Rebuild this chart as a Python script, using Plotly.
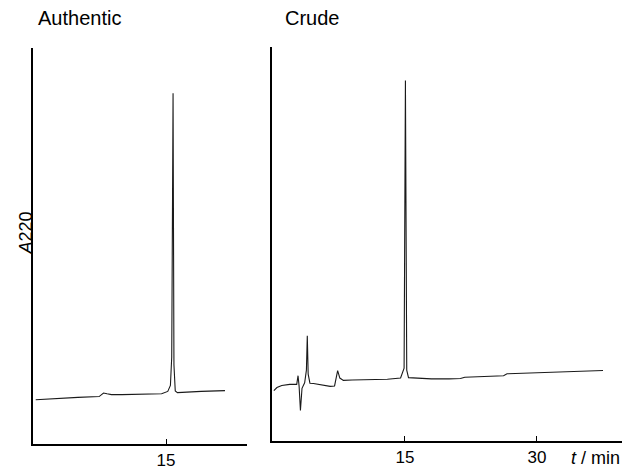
import plotly.graph_objects as go

# Authentic sample chromatogram (time in min, absorbance at 220 nm, arbitrary units)
auth_t = [0.2, 1.5, 3.0, 5.0, 7.4, 7.9, 8.3, 8.8, 10.0, 12.0, 14.5, 15.2, 15.5, 15.65,
          15.8, 15.9, 16.05, 16.3, 17.0, 19.0, 21.7]
auth_a = [11.2, 11.4, 11.6, 11.8, 12.0, 12.9, 12.7, 12.5, 12.5, 12.6, 12.7, 13.3, 14.8, 22.0,
          88.5, 20.0, 13.4, 13.0, 13.1, 13.3, 13.5]

# Crude sample chromatogram
crude_t = [0.1, 0.45, 1.0, 1.9, 2.7, 2.85, 2.97, 3.12, 3.3, 3.6, 3.8, 3.9, 4.0, 4.2, 4.6,
           5.5, 6.5, 7.0, 7.2, 7.35, 7.6, 8.0, 9.0, 11.0, 13.0, 14.5, 14.9, 15.05, 15.2,
           15.4, 16.0, 18.0, 20.0, 21.3, 21.8, 24.0, 26.2, 26.6, 30.0, 34.0, 37.5]
crude_a = [12.8, 13.6, 14.1, 14.4, 14.4, 16.6, 13.9, 7.8, 13.4, 14.8, 18.0, 26.7, 17.0, 14.7,
           14.6, 14.2, 13.9, 14.0, 16.5, 17.9, 16.0, 15.4, 15.5, 15.6, 15.7, 16.0, 18.5, 91.4,
           18.0, 16.1, 16.0, 15.8, 15.8, 15.9, 16.2, 16.4, 16.6, 17.1, 17.3, 17.6, 17.9]

panel_titles = ["Authentic", "Crude"]
auth_ticks = [15]
crude_ticks = [15, 30]

W, H = 622, 470
FONT = "Liberation Sans, Arial, Helvetica, sans-serif"
LINE = "#1a1a1a"

fig = go.Figure()
fig.add_trace(go.Scatter(x=auth_t, y=auth_a, mode="lines", xaxis="x", yaxis="y",
                         line=dict(color=LINE, width=1.1), showlegend=False))
fig.add_trace(go.Scatter(x=crude_t, y=crude_a, mode="lines", xaxis="x2", yaxis="y2",
                         line=dict(color=LINE, width=1.1), showlegend=False))

def px(x):
    return min(1.0, max(0.0, x / W))

def py(y):
    return min(1.0, max(0.0, (H - y) / H))

axis_common = dict(showgrid=False, zeroline=False, showline=True, linecolor="black",
                   linewidth=1.5, ticks="inside", ticklen=5, tickwidth=1.2,
                   tickcolor="black", tickfont=dict(size=17, color="black", family=FONT))

fig.update_layout(
    width=W, height=H,
    margin=dict(l=0, r=0, t=0, b=0),
    paper_bgcolor="white", plot_bgcolor="white",
    font=dict(family=FONT, color="black"),
    xaxis=dict(domain=[px(33), px(247)], range=[-0.11, 24.2], anchor="y",
               tickvals=auth_ticks, ticktext=[str(v) for v in auth_ticks], **axis_common),
    yaxis=dict(domain=[py(447), py(48)], range=[0, 100], anchor="x",
               showticklabels=False, showgrid=False, zeroline=False, showline=True,
               linecolor="black", linewidth=2, ticks=""),
    xaxis2=dict(domain=[px(272), 1.0], range=[-0.11, 39.66], anchor="y2",
                tickvals=crude_ticks, ticktext=[str(v) for v in crude_ticks], **axis_common),
    yaxis2=dict(domain=[py(444), py(47)], range=[0, 100], anchor="x2",
                showticklabels=False, showgrid=False, zeroline=False, showline=True,
                linecolor="black", linewidth=2, ticks=""),
    annotations=[
        dict(text=panel_titles[0], x=px(36), y=py(18), xref="paper", yref="paper",
             xanchor="left", yanchor="middle", showarrow=False, font=dict(size=20)),
        dict(text=panel_titles[1], x=px(283), y=py(18), xref="paper", yref="paper",
             xanchor="left", yanchor="middle", showarrow=False, font=dict(size=20)),
        dict(text="<i>A</i>220", x=px(25), y=py(235), xref="paper", yref="paper",
             xanchor="center", yanchor="middle", textangle=-90, showarrow=False,
             font=dict(size=18)),
        dict(text="<i>t</i> / min", x=1.0, y=py(461), xref="paper", yref="paper",
             xanchor="right", yanchor="middle", showarrow=False, font=dict(size=18)),
    ],
)

fig.write_html(
    "out.html",
    config={"displayModeBar": False},
    post_script="document.body.style.margin='0';document.body.style.overflow='hidden';",
)
